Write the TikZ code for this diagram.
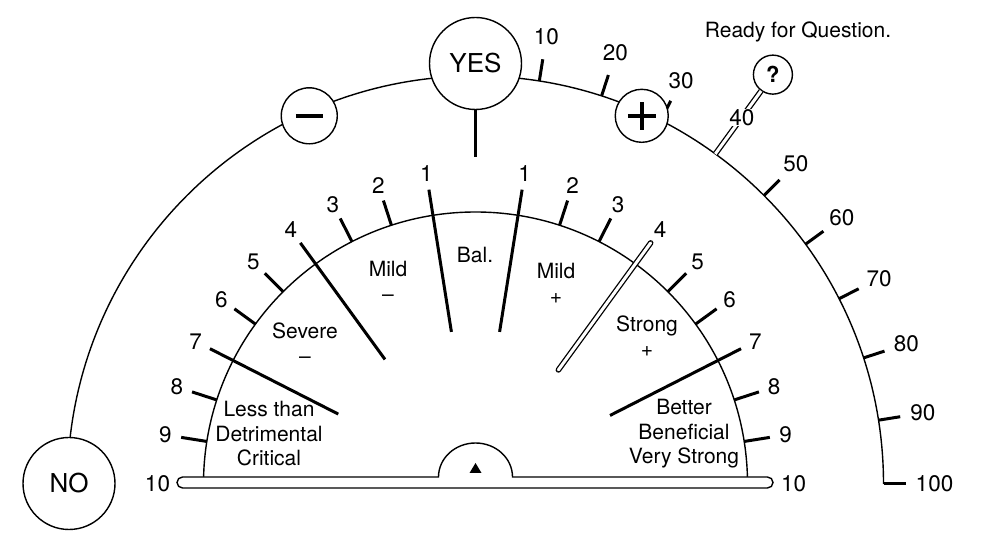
\documentclass[tikz,border=0pt]{standalone}
\usepackage{fontspec}
\setmainfont{TeX Gyre Heros}
\begin{document}
\begin{tikzpicture}[x=1pt,y=1pt,
  thinline/.style={line width=1.4pt},
  tickline/.style={line width=3pt},
  dblline/.style={line width=1.3pt, double=white, double distance=3pt},
  circ/.style={circle, draw, line width=1.4pt, fill=white, inner sep=0pt},
  num/.style={font=\fontsize{22.5}{27}\selectfont, inner sep=1pt},
  word/.style={font=\fontsize{21}{24.5}\selectfont, align=center, inner sep=0pt},
  big/.style={font=\fontsize{26}{30}\selectfont}]
\useasboundingbox (0,0) rectangle (982,543);
\coordinate (C) at (475.5,59);
% outer arc
\draw[thinline] ([shift={(180:408pt)}]C) arc (180:0:408pt);
\foreach \a/\t in {81/10,72/20,63/30,45/50,36/60,27/70,18/80,9/90}{
  \draw[tickline] ([shift={(\a:408pt)}]C) -- ([shift={(\a:430pt)}]C);
  \node[num] (o\t) at ([shift={(\a:453pt)}]C) {\t};
}
\draw[tickline] ([shift={(0:408pt)}]C) -- ([shift={(0:430pt)}]C);
\node[num] (o100) at ([shift={(0:459pt)}]C) {100};
% question
\node[circ, minimum size=39pt, font=\fontsize{22}{26}\selectfont\bfseries] (q) at ([shift={(54:506pt)}]C) {?};
\coordinate (t40) at ([shift={(54:408pt)}]C);
\draw[dblline] (t40) -- (q);
\node[num, fill=white, inner sep=0pt] (o40) at ([shift={(54:453pt)}]C) {40};
\node[word] (ready) at (798,511) {Ready for Question.};
% circles
\node[circ, minimum size=92pt, big] (yes) at (475.5,479.5) {YES};
\node[circ, minimum size=92pt, big] (no) at (69,59.5) {NO};
\node[circ, minimum size=56pt] (minus) at ([shift={(114.3:404pt)}]C) {};
\draw[line width=3.8pt] ([xshift=-13.5pt]minus.center) -- ([xshift=13.5pt]minus.center);
\node[circ, minimum size=53pt] (plus) at ([shift={(65.7:404pt)}]C) {};
\draw[line width=3.5pt] ([xshift=-14pt]plus.center) -- ([xshift=14pt]plus.center);
\draw[line width=3.5pt] ([yshift=-14pt]plus.center) -- ([yshift=14pt]plus.center);
\coordinate (stem) at (475.5,386);
\draw[tickline] (yes.south) -- (stem);
% inner gauge
\draw[thinline] ([shift={(180:272pt)}]C) arc (180:0:272pt);
\foreach \a in {108,117,135,144,162,171,72,63,45,36,18,9}
  \draw[tickline] ([shift={(\a:272pt)}]C) -- ([shift={(\a:298pt)}]C);
\foreach \a in {99,126,153,81}
  \draw[tickline] ([shift={(\a:154pt)}]C) -- ([shift={(\a:298pt)}]C);
\draw[tickline] ([shift={(27:151pt)}]C) -- ([shift={(27:298pt)}]C);
\draw[dblline, line cap=round] ([shift={(54:141pt)}]C) -- ([shift={(54:298pt)}]C);
\foreach \k in {1,...,9}{
  \node[num] (l\k) at ([shift={({90+9*\k}:314pt)}]C) {\k};
  \node[num] (r\k) at ([shift={({90-9*\k}:314pt)}]C) {\k};
}
\node[num] (l10) at ([shift={(180:318pt)}]C) {10};
\node[num] (r10) at ([shift={(0:318pt)}]C) {10};
% bar and bump
\draw[thinline, fill=white] (438.5,66) -- (182.5,66) arc (90:270:5.5pt) -- (767.5,55) arc (-90:90:5.5pt) -- (512.5,66) arc (0:180:37pt and 34pt) -- cycle;
\fill (469.5,70) -- (481.5,70) -- (475.5,80) -- cycle;
% texts
\node[word] (bal) at (475,288) {Bal.};
\node[word] (mildm) at (388,261.5) {Mild\\–};
\node[word] (mildp) at (556,259.5) {Mild\\+};
\node[word] (severe) at (305,200) {Severe\\–};
\node[word] (strong) at (647,207) {Strong\\+};
\node[word] (less) at (269,109) {Less than\\Detrimental\\Critical};
\node[word] (better) at (684,109) {Better\\Beneficial\\Very Strong};
\end{tikzpicture}
\end{document}
